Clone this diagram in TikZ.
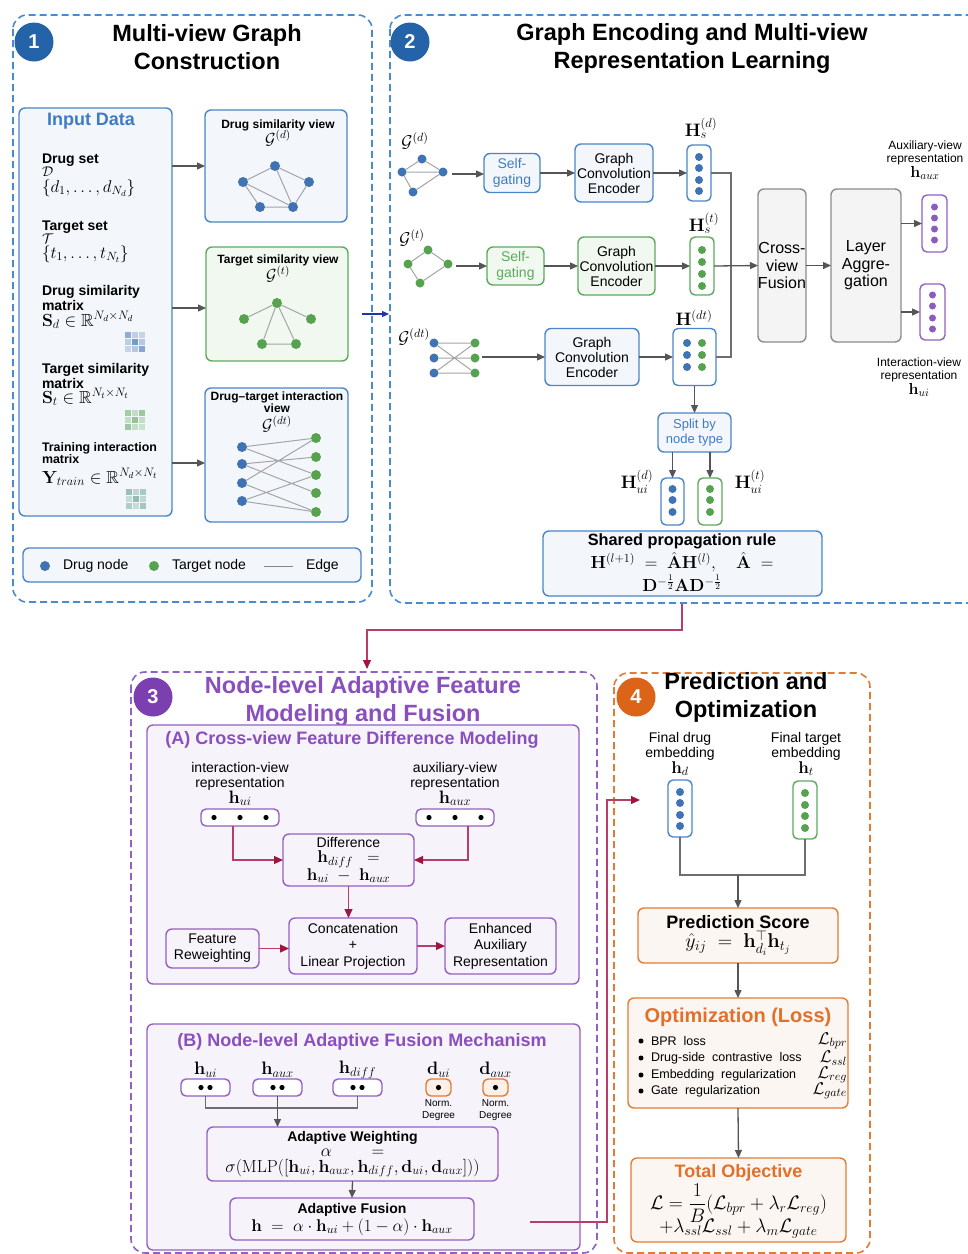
\RequirePackage{fix-cm}
\documentclass[tikz,border=0pt]{standalone}
\usepackage{amsmath,amssymb}
\usepackage[no-math]{fontspec}
\setmainfont{Liberation Sans}
\usetikzlibrary{arrows.meta,calc}

\definecolor{cBlue}{HTML}{4A86C8}
\definecolor{cBlueFill}{HTML}{F3F7FC}
\definecolor{cBlueDot}{HTML}{3F73B3}
\definecolor{cBlueTxt}{HTML}{3D7CC5}
\definecolor{cBlueDark}{HTML}{2563A8}
\definecolor{cBlueDash}{HTML}{4A8AD0}
\definecolor{cGreen}{HTML}{5DAA5D}
\definecolor{cGreenFill}{HTML}{F1F8F0}
\definecolor{cGreenDot}{HTML}{56A24F}
\definecolor{cTeal}{HTML}{5E9E8A}
\definecolor{cPurple}{HTML}{9360C4}
\definecolor{cPurpleFill}{HTML}{F7F3FA}
\definecolor{cPurpleTxt}{HTML}{8A4FBF}
\definecolor{cPurpleDark}{HTML}{7B3FB0}
\definecolor{cPurpleDot}{HTML}{8C5CC0}
\definecolor{cOrange}{HTML}{E47B33}
\definecolor{cOrangeFill}{HTML}{FCF6F2}
\definecolor{cOrangeLt}{HTML}{FDF0E8}
\definecolor{cOrangeTxt}{HTML}{E2702A}
\definecolor{cOrangeDark}{HTML}{DC6418}
\definecolor{cGrayB}{HTML}{8C8C8C}
\definecolor{cGrayF}{HTML}{F4F4F4}
\definecolor{cArrow}{HTML}{555555}
\definecolor{cEdge}{HTML}{A5A5A5}
\definecolor{cRedL}{HTML}{B83E6A}
\definecolor{cRed}{HTML}{A0163F}
\definecolor{cNavy}{HTML}{1E35B0}

\newcommand{\FS}[2]{\fontsize{#1pt}{#2pt}\selectfont}
\newcommand{\MS}[2]{{\fontsize{#1pt}{#1pt}\selectfont$#2$}}

\tikzset{
  every node/.style={inner sep=0pt, outer sep=0pt},
  panel/.style={line width=1.6pt, dash pattern=on 7pt off 4pt, rounded corners=14pt},
  rbox/.style={rounded corners=6pt, line width=1.4pt, align=center},
  bbox/.style={rbox, draw=cBlue, fill=cBlueFill},
  gbox/.style={rbox, draw=cGreen, fill=cGreenFill},
  pbox/.style={rbox, draw=cPurple, fill=cPurpleFill},
  obox/.style={rbox, draw=cOrange, fill=cOrangeFill},
  graybox/.style={rbox, draw=cGrayB, fill=cGrayF},
  colbox/.style={rounded corners=5pt, line width=1.4pt, fill=white},
  badge/.style={circle, minimum size=39pt, text=white, font=\bfseries\FS{20}{22}},
  arr/.style={draw=cArrow, line width=1.3pt, -{Triangle[length=8pt,width=7pt]}},
  gline/.style={draw=cArrow!85, line width=1.1pt},
  redarr/.style={draw=cRedL, line width=1.2pt, -{Triangle[length=9pt,width=8pt,color=cRed]}},
  gedge/.style={draw=cEdge, line width=1pt},
  dn/.style={circle, fill=cBlueDot, minimum size=10pt},
  tn/.style={circle, fill=cGreenDot, minimum size=10pt},
  sdn/.style={circle, fill=cBlueDot, minimum size=9pt},
  stn/.style={circle, fill=cGreenDot, minimum size=9pt},
}

\begin{document}
\begin{tikzpicture}[x=1pt,y=-1pt]
\useasboundingbox (0,0) rectangle (968,1254);
\fill[white] (0,0) rectangle (968,1254);

% ================= PANELS =================
\draw[panel, draw=cBlueDash] (13,15) rectangle (372,602);
\draw[panel, draw=cBlueDash] (390,15) rectangle (995,603);
\draw[panel, draw=cPurple] (131,672) rectangle (597,1253);
\draw[panel, draw=cOrange] (614,673) rectangle (870,1253);

\node[badge, fill=cBlueDark] (b1) at (34,42) {1};
\node[badge, fill=cBlueDark] (b2) at (410,42) {2};
\node[badge, fill=cPurpleDark] (b3) at (153,697) {3};
\node[badge, fill=cOrangeDark] (b4) at (636,697) {4};

\node[font=\bfseries\FS{23.5}{28}, align=center] (title1) at (207,47) {Multi-view Graph\\Construction};
\node[font=\bfseries\FS{23.5}{28}, align=center] (title2) at (692,48) {Graph Encoding and Multi-view\\Representation Learning};
\node[font=\bfseries\FS{23.5}{28}, align=center, text=cPurpleTxt] (title3) at (363,701) {Node-level Adaptive Feature\\Modeling and Fusion};
\node[font=\bfseries\FS{23.5}{28}, align=center] (title4) at (746,697) {Prediction and\\Optimization};

% ================= PANEL 1 =================
\node[bbox, minimum width=153pt, minimum height=408pt] (input) at (95.5,312) {};
\node[font=\bfseries\FS{18}{20}, text=cBlueTxt] (inputT) at (91,121) {Input Data};

\node[anchor=base west, font=\bfseries\FS{14}{16}] (i1a) at (42,163) {Drug set};
\node[anchor=base west, font=\FS{14}{16}] (i1b) at (42,176) {$\mathcal{D}$};
\node[anchor=base west, font=\FS{17}{19}] (i1c) at (42,192) {$\{d_1,\ldots,d_{N_d}\}$};

\node[anchor=base west, font=\bfseries\FS{14}{16}] (i2a) at (42,230) {Target set};
\node[anchor=base west, font=\FS{14}{16}] (i2b) at (42,243) {$\mathcal{T}$};
\node[anchor=base west, font=\FS{17}{19}] (i2c) at (42,258) {$\{t_1,\ldots,t_{N_t}\}$};

\node[anchor=base west, font=\bfseries\FS{14}{16}] (i3a) at (42,295) {Drug similarity};
\node[anchor=base west, font=\bfseries\FS{14}{16}] (i3b) at (42,310) {matrix};
\node[anchor=base west, font=\FS{17.5}{19}] (i3c) at (42,326) {$\mathbf{S}_d\in\mathbb{R}^{N_d\times N_d}$};

\node[anchor=base west, font=\bfseries\FS{14}{16}] (i4a) at (42,373) {Target similarity};
\node[anchor=base west, font=\bfseries\FS{14}{16}] (i4b) at (42,388) {matrix};
\node[anchor=base west, font=\FS{17.5}{19}] (i4c) at (42,403) {$\mathbf{S}_t\in\mathbb{R}^{N_t\times N_t}$};

\node[anchor=base west, font=\bfseries\FS{12.4}{14}] (i5a) at (42,451) {Training interaction};
\node[anchor=base west, font=\bfseries\FS{12.4}{14}] (i5b) at (42,463) {matrix};
\node[anchor=base west, font=\FS{17.5}{19}] (i5c) at (42,483) {$\mathbf{Y}_{train}\in\mathbb{R}^{N_d\times N_t}$};

% matrix icons
\foreach \i/\j/\o in {0/0/0.55,1/0/0.3,2/0/0.25,0/1/0.3,1/1/0.7,2/1/0.35,0/2/0.25,1/2/0.35,2/2/0.6}
  \fill[cBlueDot, opacity=\o] (125+7*\i,332+7*\j) rectangle ++(6.2,6.2);
\foreach \i/\j/\o in {0/0/0.5,1/0/0.3,2/0/0.55,0/1/0.3,1/1/0.6,2/1/0.3,0/2/0.55,1/2/0.3,2/2/0.25}
  \fill[cGreenDot, opacity=\o] (125+7*\i,410+7*\j) rectangle ++(6.2,6.2);
\foreach \i/\j/\o in {0/0/0.6,1/0/0.35,2/0/0.5,0/1/0.3,1/1/0.65,2/1/0.35,0/2/0.45,1/2/0.3,2/2/0.55}
  \fill[cTeal, opacity=\o] (126+7*\i,489+7*\j) rectangle ++(6.2,6.2);

% drug similarity view
\node[bbox, minimum width=142pt, minimum height=112pt] (dview) at (276,166) {};
\node[anchor=base, font=\bfseries\FS{12}{13}] (dviewT) at (278,128) {Drug similarity view};
\node[anchor=base, font=\FS{16}{17}] (dviewG) at (278,144) {$\mathcal{G}^{(d)}$};
\node[dn] (dA) at (243,182) {};
\node[dn] (dB) at (275,166) {};
\node[dn] (dC) at (309,182) {};
\node[dn] (dD) at (260,207) {};
\node[dn] (dE) at (293,207) {};
\draw[gedge] (dA)--(dB) (dB)--(dC) (dC)--(dE) (dE)--(dD) (dD)--(dA) (dA)--(dE) (dB)--(dE);

% target similarity view
\node[gbox, minimum width=142pt, minimum height=114pt] (tview) at (277,304) {};
\node[anchor=base, font=\bfseries\FS{12}{13}] (tviewT) at (278,263) {Target similarity view};
\node[anchor=base, font=\FS{16}{17}] (tviewG) at (278,280) {$\mathcal{G}^{(t)}$};
\node[tn] (tA) at (277,303) {};
\node[tn] (tB) at (244,319) {};
\node[tn] (tC) at (311,319) {};
\node[tn] (tD) at (262,344) {};
\node[tn] (tE) at (296,344) {};
\draw[gedge] (tB)--(tA) (tA)--(tC) (tA)--(tD) (tA)--(tE) (tD)--(tE);

% drug-target interaction view
\node[bbox, minimum width=143pt, minimum height=134pt] (dtview) at (276.5,455) {};
\node[anchor=base, font=\bfseries\FS{12}{13}] (dtviewT) at (277,400) {Drug--target interaction};
\node[anchor=base, font=\bfseries\FS{12}{13}] (dtviewT2) at (277,412) {view};
\node[anchor=base, font=\FS{16}{17}] (dtviewG) at (277,430) {$\mathcal{G}^{(dt)}$};
\foreach \k/\y in {1/447,2/464,3/483,4/501} \node[dn] (ed\k) at (242,\y) {};
\foreach \k/\y in {1/438,2/457,3/475,4/493,5/512} \node[tn] (et\k) at (316,\y) {};
\draw[gedge] (ed1)--(et1) (ed1)--(et3) (ed2)--(et2) (ed2)--(et4) (ed3)--(et1) (ed3)--(et5) (ed4)--(et3) (ed4)--(et5);

\draw[arr] (input.east |- dview.west) -- (dview.west);
\draw[arr] ($(input.east |- tview.west)+(0,4)$) -- ($(tview.west)+(0,4)$);
\draw[arr] ($(input.east |- dtview.west)+(0,8)$) -- ($(dtview.west)+(0,8)$);

% legend
\node[bbox, minimum width=338pt, minimum height=34pt] (legend) at (192,565) {};
\node[dn] (legD) at (45,566) {};
\node[anchor=west, font=\FS{14}{16}] (legDT) at (63,566) {Drug node};
\node[tn] (legT) at (154,566) {};
\node[anchor=west, font=\FS{14}{16}] (legTT) at (172,566) {Target node};
\coordinate (legE1) at (264,566);
\coordinate (legE2) at (293,566);
\draw[gedge, draw=cArrow!70] (legE1) -- (legE2);
\node[anchor=west, font=\FS{14}{16}] (legET) at (306,566) {Edge};

% panel 1 -> panel 2
\coordinate (p12a) at (362,314);
\coordinate (p12b) at (389,314);
\draw[draw=cNavy, line width=1.2pt, -{Triangle[length=7pt,width=6pt]}] (p12a) -- (p12b);

% ================= PANEL 2 =================
% row d
\node[font=\FS{17}{18}] (gdl) at (415,141) {$\mathcal{G}^{(d)}$};
\node[sdn] (sA) at (422,159) {};
\node[sdn] (sB) at (402,172) {};
\node[sdn] (sC) at (443,172) {};
\node[sdn] (sD) at (413,192) {};
\draw[gedge] (sB)--(sA) (sA)--(sC) (sB)--(sC) (sB)--(sD) (sD)--(sC);
\coordinate (g1) at (452,174);
\node[bbox, text=cBlueTxt, font=\FS{14}{16}, minimum width=56pt, minimum height=39pt] (sg1) at (512,173) {Self-\\gating};
\node[bbox, font=\FS{14}{15}, minimum width=78pt, minimum height=58pt] (gce1) at (614,173) {Graph\\Convolution\\Encoder};
\node[colbox, draw=cBlue, minimum width=24pt, minimum height=56pt] (hd) at (699,173) {};
\foreach \y in {157,168,180,191} \fill[cBlueDot] (699,\y) circle (4pt);
\node[font=\FS{18}{19}] (hdl) at (701,128) {$\mathbf{H}_s^{(d)}$};
\draw[arr] (g1) -- (g1 -| sg1.west);
\draw[arr] (sg1.east) -- (gce1.west);
\draw[arr] (gce1.east) -- (hd.west);

% row t
\node[font=\FS{17}{18}] (gtl) at (412,238) {$\mathcal{G}^{(t)}$};
\node[stn] (uA) at (428,250) {};
\node[stn] (uB) at (408,264) {};
\node[stn] (uC) at (448,264) {};
\node[stn] (uD) at (420,283) {};
\draw[gedge] (uB)--(uA) (uA)--(uC) (uB)--(uD) (uD)--(uC);
\coordinate (g2) at (456,266);
\node[gbox, text=cGreen, font=\FS{14}{16}, minimum width=57pt, minimum height=38pt] (sg2) at (515.5,266) {Self-\\gating};
\node[gbox, font=\FS{14}{15}, minimum width=77pt, minimum height=58pt] (gce2) at (616.5,266) {Graph\\Convolution\\Encoder};
\node[colbox, draw=cGreen, minimum width=24pt, minimum height=58pt] (ht) at (702,266) {};
\foreach \y in {250,262,274,286} \fill[cGreenDot] (702,\y) circle (4pt);
\node[font=\FS{18}{19}] (htl) at (704,223) {$\mathbf{H}_s^{(t)}$};
\draw[arr] (g2) -- (sg2.west);
\draw[arr] (sg2.east) -- (gce2.west);
\draw[arr] (gce2.east) -- (ht.west);

% row dt
\node[font=\FS{17}{18}] (gdtl) at (414,337) {$\mathcal{G}^{(dt)}$};
\foreach \k/\y in {1/343,2/358,3/373} {\node[sdn] (vd\k) at (434,\y) {}; \node[stn] (vt\k) at (475,\y) {};}
\draw[gedge] (vd1)--(vt1) (vd2)--(vt2) (vd3)--(vt3) (vd1)--(vt3) (vd3)--(vt1);
\coordinate (g3) at (482,357);
\node[bbox, font=\FS{14}{15}, minimum width=94pt, minimum height=57pt] (gce3) at (592,357) {Graph\\Convolution\\Encoder};
\node[colbox, draw=cBlue, minimum width=43pt, minimum height=57pt] (hdt) at (694.5,357) {};
\foreach \y in {343,355,367} {\fill[cBlueDot] (687,\y) circle (4pt); \fill[cGreenDot] (702,\y) circle (4pt);}
\node[font=\FS{18}{19}] (hdtl) at (694,318) {$\mathbf{H}^{(dt)}$};
\draw[arr] (g3) -- (gce3.west);
\draw[arr] (gce3.east) -- (hdt.west);

% fusion
\node[graybox, font=\FS{16}{17.5}, minimum width=48pt, minimum height=153pt] (cvf) at (782,265.5) {Cross-\\view\\Fusion};
\node[graybox, font=\FS{16}{17.5}, minimum width=70pt, minimum height=153pt] (lagg) at (866,265.5) {Layer\\Aggre-\\gation};
\draw[gline, line width=1.3pt] (hd.east) -- ++(20,0) |- (hdt.east);
\draw[arr] (ht.east) -- (cvf.west);
\draw[arr] (cvf.east) -- (lagg.west);
\node[colbox, draw=cPurple, minimum width=25pt, minimum height=57pt] (haux) at (934.5,223.5) {};
\foreach \y in {207,218,229,240} \fill[cPurpleDot] (934.5,\y) circle (3.5pt);
\node[colbox, draw=cPurple, minimum width=25pt, minimum height=56pt] (hui) at (932.5,312) {};
\foreach \y in {295,306,318,329} \fill[cPurpleDot] (932.5,\y) circle (3.5pt);
\draw[arr] (lagg.east |- haux.west) -- (haux.west);
\draw[arr] (lagg.east |- hui.west) -- (hui.west);
\node[font=\FS{12}{13.5}, align=center] (hauxl) at (925,160) {Auxiliary-view\\representation\\\MS{16}{\mathbf{h}_{aux}}};
\node[font=\FS{12}{13.5}, align=center] (huil) at (919,377) {Interaction-view\\representation\\\MS{16}{\mathbf{h}_{ui}}};

% split
\node[bbox, text=cBlueTxt, font=\FS{13}{15}, minimum width=73pt, minimum height=39pt] (split) at (694.5,432.5) {Split by\\node type};
\draw[arr] (hdt.south) -- (split.north);
\node[colbox, draw=cBlue, minimum width=23pt, minimum height=47pt] (hud) at (672.5,501.5) {};
\foreach \y in {489,500,512} \fill[cBlueDot] (672.5,\y) circle (4pt);
\node[colbox, draw=cGreen, minimum width=24pt, minimum height=47pt] (hut) at (710,501.5) {};
\foreach \y in {489,500,512} \fill[cGreenDot] (710,\y) circle (4pt);
\draw[arr] (split.south -| hud.north) -- (hud.north);
\draw[arr] (split.south -| hut.north) -- (hut.north);
\node[font=\FS{18}{19}] (hudl) at (637,482) {$\mathbf{H}_{ui}^{(d)}$};
\node[font=\FS{18}{19}] (hutl) at (750,482) {$\mathbf{H}_{ui}^{(t)}$};

% shared propagation
\node[bbox, minimum width=279pt, minimum height=65pt] (prop) at (682.5,563.5) {};
\node[font=\bfseries\FS{16.3}{18}] (propT) at (682,541) {Shared propagation rule};
\node[font=\FS{17.5}{19}] (propE1) at (682,562) {$\mathbf{H}^{(l+1)}\;=\;\hat{\mathbf{A}}\mathbf{H}^{(l)},\quad\hat{\mathbf{A}}\;=$};
\node[font=\FS{17.5}{19}] (propE2) at (682,583) {$\mathbf{D}^{-\frac{1}{2}}\mathbf{A}\mathbf{D}^{-\frac{1}{2}}$};

% connector panel 2 -> panel 3
\coordinate (p23a) at (682,604);
\coordinate (p23b) at (367,669);
\draw[redarr] (p23a) -- ++(0,26) -| (p23b);

% ================= PANEL 3 =================
\node[pbox, minimum width=432pt, minimum height=259pt] (boxA) at (363,854.5) {};
\node[font=\bfseries\FS{18}{20}, text=cPurpleTxt] (boxAT) at (352,740) {(A) Cross-view Feature Difference Modeling};
\node[font=\FS{14}{15.5}, align=center] (vuil) at (240,784) {interaction-view\\representation\\\MS{18}{\mathbf{h}_{ui}}};
\node[font=\FS{14}{15.5}, align=center] (vauxl) at (455,784) {auxiliary-view\\representation\\\MS{18}{\mathbf{h}_{aux}}};
\node[colbox, draw=cPurple, minimum width=78pt, minimum height=17pt] (vui) at (240,817.5) {};
\foreach \x in {214,240,266} \fill[black] (\x,817.5) circle (2.6pt);
\node[colbox, draw=cPurple, minimum width=78pt, minimum height=17pt] (vaux) at (455,817.5) {};
\foreach \x in {429,455,481} \fill[black] (\x,817.5) circle (2.6pt);
\node[pbox, font=\FS{14}{15.5}, minimum width=131pt, minimum height=52pt] (diff) at (348.5,860) {Difference\\\MS{17}{\mathbf{h}_{diff}\ \ =}\\\MS{17}{\mathbf{h}_{ui}\ -\ \mathbf{h}_{aux}}};
\draw[redarr] ($(vui.south)+(-7,0)$) |- (diff.west);
\draw[redarr] ($(vaux.south)+(13,0)$) |- (diff.east);
\node[pbox, font=\FS{14}{16.5}, minimum width=128pt, minimum height=56pt] (concat) at (353,946) {Concatenation\\+\\Linear Projection};
\node[pbox, font=\FS{14}{16}, minimum width=93pt, minimum height=39pt] (fr) at (212.5,948.5) {Feature\\Reweighting};
\node[pbox, font=\FS{14}{16.5}, minimum width=111pt, minimum height=56pt] (ear) at (500.5,946) {Enhanced\\Auxiliary\\Representation};
\draw[redarr] (diff.south) -- (diff.south |- concat.north);
\draw[redarr] (fr.east) -- (fr.east -| concat.west);
\draw[redarr] (concat.east) -- (ear.west);

\node[pbox, minimum width=433pt, minimum height=226pt] (boxB) at (363.5,1137) {};
\node[font=\bfseries\FS{18}{20}, text=cPurpleTxt] (boxBT) at (362,1042) {(B) Node-level Adaptive Fusion Mechanism};
\node[font=\FS{18}{19}] (buil) at (205.5,1070) {$\mathbf{h}_{ui}$};
\node[font=\FS{18}{19}] (bauxl) at (277.5,1070) {$\mathbf{h}_{aux}$};
\node[font=\FS{18}{19}] (bdiffl) at (357.5,1070) {$\mathbf{h}_{diff}$};
\node[font=\FS{18}{19}] (duil) at (438.5,1070) {$\mathbf{d}_{ui}$};
\node[font=\FS{18}{19}] (dauxl) at (495.5,1070) {$\mathbf{d}_{aux}$};
\node[colbox, draw=cPurple, minimum width=49pt, minimum height=17pt] (bui) at (205.5,1087.5) {};
\node[colbox, draw=cPurple, minimum width=49pt, minimum height=17pt] (baux) at (277.5,1087.5) {};
\node[colbox, draw=cPurple, minimum width=49pt, minimum height=17pt] (bdiff) at (357.5,1087.5) {};
\foreach \c in {205.5,277.5,357.5} {\fill[black] (\c-4.5,1087.5) circle (2.6pt); \fill[black] (\c+4.5,1087.5) circle (2.6pt);}
\node[colbox, draw=cOrange, fill=cOrangeLt, minimum width=25pt, minimum height=17pt] (dui) at (438.5,1087.5) {};
\node[colbox, draw=cOrange, fill=cOrangeLt, minimum width=25pt, minimum height=17pt] (daux) at (495.5,1087.5) {};
\fill[black] (438.5,1087.5) circle (2.6pt);
\fill[black] (495.5,1087.5) circle (2.6pt);
\node[font=\FS{10}{12.5}, align=center] (duin) at (438.5,1110) {Norm.\\Degree};
\node[font=\FS{10}{12.5}, align=center] (dauxn) at (495.5,1110) {Norm.\\Degree};
\node[pbox, minimum width=291pt, minimum height=54pt] (aw) at (352.5,1154) {};
\node[font=\bfseries\FS{14}{16}] (awT) at (352.5,1138) {Adaptive Weighting};
\node[font=\FS{17.5}{18}] (awE1) at (352.5,1153) {$\alpha\qquad=$};
\node[font=\FS{17.5}{18}] (awE2) at (352.5,1168) {$\sigma(\mathrm{MLP}([\mathbf{h}_{ui},\mathbf{h}_{aux},\mathbf{h}_{diff},\mathbf{d}_{ui},\mathbf{d}_{aux}]))$};
\draw[gline] (bui.south) -- ++(0,12) -| (bdiff.south);
\draw[arr] (baux.south) -- (baux.south |- aw.north);
\node[pbox, minimum width=244pt, minimum height=42pt] (af) at (352,1219) {};
\node[font=\bfseries\FS{14}{16}] (afT) at (352,1210) {Adaptive Fusion};
\node[font=\FS{17}{18}] (afE) at (352,1227) {$\mathbf{h}\;=\;\alpha\cdot\mathbf{h}_{ui}+(1-\alpha)\cdot\mathbf{h}_{aux}$};
\draw[arr] (aw.south) -- (af.north);

% connector panel 3 -> panel 4
\coordinate (p34a) at (530,1222);
\coordinate (p34b) at (640,800);
\draw[redarr] (p34a) -- ++(77,0) |- (p34b);

% ================= PANEL 4 =================
\node[font=\FS{14}{15.5}, align=center] (fdl) at (680,754) {Final drug\\embedding\\\MS{17}{\mathbf{h}_d}};
\node[font=\FS{14}{15.5}, align=center] (ftl) at (806,754) {Final target\\embedding\\\MS{17}{\mathbf{h}_t}};
\node[colbox, draw=cBlue, minimum width=24pt, minimum height=57pt] (fd) at (680,808.5) {};
\foreach \y in {792,803,815,826} \fill[cBlueDot] (680,\y) circle (4pt);
\node[colbox, draw=cGreen, minimum width=24pt, minimum height=58pt] (ft) at (805,810) {};
\foreach \y in {793,805,816,828} \fill[cGreenDot] (805,\y) circle (4pt);
\draw[gline] (fd.south) -- ++(0,38) -| (ft.south);
\coordinate (j4) at (738,875);
\node[obox, minimum width=200pt, minimum height=55pt] (ps) at (738,935.5) {};
\node[font=\bfseries\FS{18}{20}] (psT) at (738,922) {Prediction Score};
\node[font=\FS{20}{21}] (psE) at (738,943) {$\hat{y}_{ij}\ =\ \mathbf{h}_{d_i}^{\top}\mathbf{h}_{t_j}$};
\draw[arr] (j4) -- (ps.north);

\node[obox, minimum width=220pt, minimum height=110pt] (opt) at (738,1053) {};
\node[font=\bfseries\FS{20}{22}, text=cOrangeTxt] (optT) at (738,1017) {Optimization (Loss)};
\foreach \k/\y/\t/\m in {1/1041/BPR\ \ loss/bpr, 2/1058/Drug-side\ \ contrastive\ \ loss/ssl, 3/1075/Embedding\ \ regularization/reg, 4/1091/Gate\ \ regularization/gate}{
  \node[circle, fill=black, minimum size=5pt] (ob\k) at (641,\y) {};
  \node[font=\FS{12.5}{14}, anchor=west] (ot\k) at (651,\y) {\t};
  \node[font=\FS{17}{18}, anchor=east] (om\k) at (847,\y) {$\mathcal{L}_{\m}$};
}
\draw[arr] (ps.south) -- (opt.north);

\node[obox, minimum width=215pt, minimum height=84pt] (tot) at (738.5,1200) {};
\node[font=\bfseries\FS{18}{20}, text=cOrangeTxt] (totT) at (738.5,1173) {Total Objective};
\node[font=\FS{19.5}{20}] (totE1) at (738.5,1203) {$\mathcal{L}=\dfrac{1}{B}(\mathcal{L}_{bpr}+\lambda_r\mathcal{L}_{reg})$};
\node[font=\FS{19.5}{20}] (totE2) at (738.5,1229) {$+\lambda_{ssl}\mathcal{L}_{ssl}+\lambda_m\mathcal{L}_{gate}$};
\draw[arr] (opt.south) -- (tot.north);

\end{tikzpicture}
\end{document}
